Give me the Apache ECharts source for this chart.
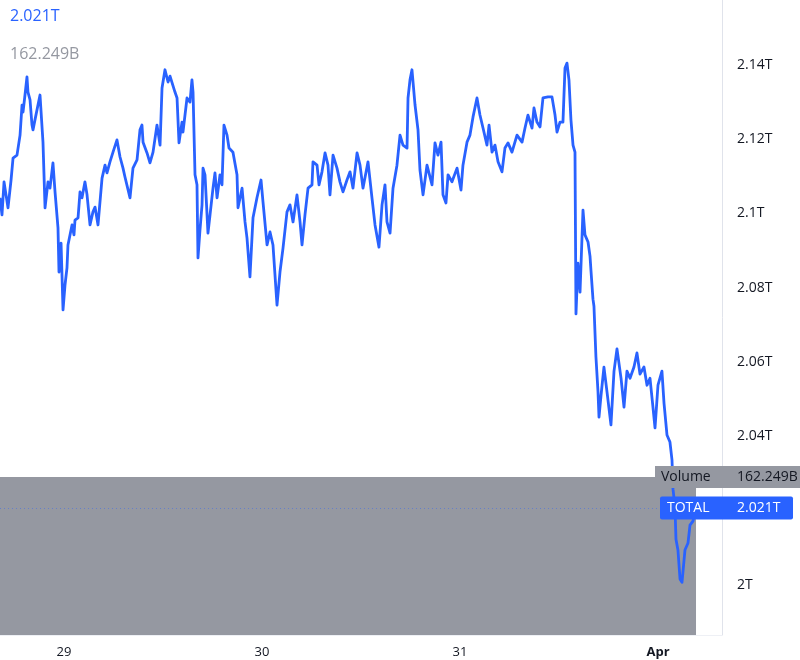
<!DOCTYPE html>
<html>
<head>
<meta charset="utf-8">
<style>html,body{margin:0;padding:0;background:#fff}#c{width:800px;height:660px}</style>
<script src="https://cdn.jsdelivr.net/npm/echarts@6/dist/echarts.min.js"></script>
</head>
<body>
<div id="c"></div>
<script>
// hours since 2022-03-28 00:00 (local)
const hours = [16.24,16.48,16.73,16.97,17.21,17.58,17.82,18.30,18.67,18.91,19.03,19.27,19.51,19.63,19.88,20.12,20.24,20.48,20.72,21.09,
21.45,21.70,22.06,22.30,22.66,22.91,23.27,23.39,23.64,23.88,24.12,24.36,24.48,24.97,25.21,25.33,25.70,25.94,26.18,26.54,
26.79,27.15,27.51,27.76,28.12,28.61,28.97,29.21,29.57,29.94,30.42,30.79,31.15,31.39,32.00,32.36,32.85,33.21,33.45,33.58,
34.06,34.42,34.79,35.27,35.64,35.88,36.24,36.61,36.85,37.09,37.45,37.70,37.94,38.30,38.42,38.91,39.27,39.51,39.64,39.88,
40.12,40.24,40.48,40.73,40.85,41.09,41.45,41.70,42.06,42.30,42.55,42.91,43.15,43.39,43.76,44.00,44.48,44.97,45.09,45.58,
45.94,46.18,46.54,46.91,47.39,47.88,48.12,48.61,48.97,49.33,49.82,50.18,50.55,51.03,51.39,51.76,52.24,52.61,52.85,53.21,
53.58,54.06,54.18,54.67,54.91,55.27,55.64,56.00,56.24,56.61,57.09,57.45,57.82,58.30,58.67,59.03,59.52,59.88,60.24,60.85,
61.33,61.70,62.18,62.55,62.91,63.15,63.52,63.88,64.36,64.73,65.09,65.58,65.70,65.94,66.18,66.55,66.91,67.15,67.52,68.00,
68.61,68.97,69.33,69.70,69.94,70.30,70.55,71.03,71.64,72.12,72.36,72.85,73.21,73.58,74.06,74.42,74.79,75.27,75.52,75.88,
76.24,76.61,77.09,77.45,77.82,78.30,78.91,79.52,79.88,80.24,80.73,80.97,81.33,81.70,82.06,82.67,83.15,83.52,83.76,84.12,
84.48,84.73,84.97,85.21,85.45,85.70,85.94,86.06,86.30,86.55,86.91,87.15,87.52,87.76,87.88,88.12,88.24,88.48,88.73,88.85,
89.09,89.45,89.82,90.30,90.67,91.03,91.52,91.88,92.24,92.61,93.09,93.45,93.82,94.30,94.67,95.03,95.39,95.64,96.00,96.48,
96.73,97.09,97.45,97.70,97.82,98.06,98.18,98.42,98.67,98.91,99.27,99.64,99.88,100.24,100.61];
// TOTAL crypto market cap, billions USD
const totalB = [2104.2,2099.6,2108.5,2105.0,2101.5,2109.0,2114.9,2115.7,2121.1,2129.2,2127.3,2131.9,2136.8,2132.7,2130.6,2123.8,2122.5,2125.2,2125.7,2131.9,
2119.2,2101.5,2108.5,2106.8,2113.6,2105.8,2096.1,2084.2,2092.0,2074.0,2080.7,2085.3,2091.5,2096.9,2094.2,2098.2,2098.8,2105.8,2104.2,2108.5,
2105.0,2096.9,2100.4,2101.7,2096.9,2109.5,2113.0,2110.9,2113.9,2116.5,2119.8,2115.2,2112.2,2109.8,2104.2,2112.2,2114.4,2122.5,2123.8,2119.2,
2116.3,2113.6,2116.5,2123.8,2118.4,2133.8,2138.7,2135.4,2137.0,2136.5,2132.7,2131.1,2119.0,2124.6,2121.9,2131.1,2130.0,2136.0,2132.7,2110.4,
2107.7,2088.0,2095.5,2102.3,2112.2,2110.4,2094.7,2099.6,2106.8,2110.9,2104.2,2110.4,2107.7,2123.8,2121.1,2117.6,2116.5,2110.4,2101.5,2106.8,
2097.7,2093.4,2082.9,2098.8,2104.2,2109.0,2103.1,2091.5,2095.0,2091.5,2075.3,2084.2,2090.7,2100.4,2102.3,2097.7,2105.0,2097.7,2091.5,2099.6,
2106.8,2107.7,2113.9,2113.0,2107.7,2111.2,2116.3,2113.0,2105.0,2115.7,2112.2,2108.5,2105.8,2109.0,2111.2,2106.8,2116.3,2113.0,2106.8,2113.9,
2104.2,2096.9,2090.9,2102.3,2107.7,2097.7,2094.7,2106.8,2113.0,2121.1,2118.4,2117.6,2131.1,2136.0,2138.7,2129.2,2122.5,2111.7,2105.0,2113.0,
2107.7,2119.0,2115.7,2119.2,2105.0,2102.8,2110.4,2108.5,2112.2,2106.3,2113.0,2119.2,2121.1,2126.0,2131.1,2126.5,2123.0,2118.4,2123.8,2116.5,
2118.4,2113.9,2111.2,2117.6,2119.0,2116.5,2121.1,2119.2,2123.0,2126.5,2123.0,2128.4,2124.6,2123.3,2131.1,2131.4,2131.4,2126.5,2121.9,2124.6,
2124.6,2139.2,2140.5,2136.0,2125.2,2118.4,2116.5,2072.9,2086.6,2078.8,2100.9,2094.2,2092.3,2088.5,2084.5,2076.9,2075.0,2061.3,2051.9,2045.1,
2050.8,2058.6,2051.9,2043.0,2057.5,2063.5,2055.6,2047.8,2057.5,2055.6,2058.6,2062.4,2056.7,2058.6,2053.7,2055.6,2047.8,2042.2,2053.7,2057.5,
2048.9,2040.3,2038.4,2033.5,2025.7,2020.9,2012.2,2009.3,2001.5,2000.6,2009.3,2011.2,2016.0,2017.1,2020.6];
const yTickValuesB = [2000, 2020, 2040, 2060, 2080, 2100, 2120, 2140];
const volumeLevelB = 2029;      // top edge of the volume pane overlay
const lastTotalText = '2.021T';
const lastVolumeText = '162.249B';
const seriesName = 'TOTAL';
const volumeName = 'Volume';
const monthNames = ['Jan','Feb','Mar','Apr','May','Jun','Jul','Aug','Sep','Oct','Nov','Dec'];

const BASE = new Date(2022, 2, 28).getTime();
const H = 3600000;
const data = hours.map((h, i) => [BASE + h * H, totalB[i]]);
const tFirst = data[0][0];
const tLast = data[data.length - 1][0];
const vLast = totalB[totalB.length - 1];
const yMin = 1986.4, yMax = 2157.5;
const xMax = BASE + 103.76 * H;

function fmtT(v) {
  return (Math.round(v * 10) / 10000) + 'T';
}

const chart = echarts.init(document.getElementById('c'), null, {renderer: 'canvas'});
const FONT = 'Open Sans, Noto Sans, sans-serif';
chart.setOption({
  animation: false,
  backgroundColor: '#ffffff',
  grid: {left: 0, right: 78, top: 0, bottom: 25, containLabel: false},
  xAxis: {
    type: 'time',
    min: tFirst,
    max: xMax,
    minInterval: 24 * H,
    maxInterval: 24 * H,
    axisLine: {show: true, lineStyle: {color: '#eef0f5', width: 1}},
    axisTick: {show: false},
    splitLine: {show: false},
    axisLabel: {
      color: '#131722', fontSize: 13, fontFamily: FONT, margin: 11,
      formatter: function (val) {
        const d = new Date(val);
        if (d.getHours() !== 0 || d.getMinutes() !== 0) return '';
        if (d.getDate() === 1) return '{m|' + monthNames[d.getMonth()] + '}';
        return String(d.getDate());
      },
      rich: {m: {fontWeight: 'bold', fontSize: 13, color: '#131722', fontFamily: FONT}}
    }
  },
  yAxis: {
    type: 'value',
    position: 'right',
    min: yMin,
    max: yMax,
    splitNumber: 8,
    scale: true,
    axisLine: {show: true, lineStyle: {color: '#e0e3eb', width: 1}},
    axisTick: {show: false},
    splitLine: {show: false},
    axisLabel: {
      color: '#131722', fontSize: 14, fontFamily: FONT, margin: 15,
      showMinLabel: false, showMaxLabel: false,
      formatter: function (v) {
        return yTickValuesB.indexOf(Math.round(v)) >= 0 && Math.abs(v - Math.round(v)) < 1e-6 ? fmtT(v) : '';
      }
    }
  },
  series: [
    {
      name: 'overlay', type: 'line', data: [], z: 1, silent: true,
      markArea: {
        silent: true,
        itemStyle: {color: '#9598a1', opacity: 1},
        data: [[{xAxis: tFirst, yAxis: volumeLevelB}, {xAxis: tLast, yAxis: yMin}]]
      }
    },
    {
      name: seriesName, type: 'line', data: data, z: 3,
      showSymbol: false, symbol: 'none', sampling: null,
      lineStyle: {color: '#2962ff', width: 2.8, join: 'round'},
      markLine: {
        silent: true, symbol: ['none', 'none'],
        label: {show: false},
        lineStyle: {color: '#2962ff', type: [1, 3], width: 1, opacity: 0.45},
        data: [{yAxis: vLast}]
      }
    }
  ]
});

const yTotal = chart.convertToPixel({gridIndex: 0}, [tLast, vLast])[1];
const yVol = chart.convertToPixel({gridIndex: 0}, [tLast, volumeLevelB])[1];

chart.setOption({
  graphic: [
    {type: 'text', left: 10, top: 8, z: 100, style: {text: lastTotalText, fill: '#2962ff', font: '16px ' + FONT}},
    {type: 'text', left: 10, top: 46, z: 100, style: {text: lastVolumeText, fill: '#9598a1', font: '16px ' + FONT}},
    {type: 'rect', z: 100, shape: {x: 655, y: yVol - 11, width: 150, height: 22}, style: {fill: '#9598a1'}},
    {type: 'text', z: 101, x: 661, y: yVol, style: {text: volumeName, fill: '#131722', font: '14px ' + FONT, textVerticalAlign: 'middle'}},
    {type: 'text', z: 101, x: 737, y: yVol, style: {text: lastVolumeText, fill: '#131722', font: '14px ' + FONT, textVerticalAlign: 'middle'}},
    {type: 'rect', z: 100, shape: {x: 660, y: yTotal - 11.5, width: 133, height: 23, r: 2}, style: {fill: '#2962ff'}},
    {type: 'text', z: 101, x: 667, y: yTotal, style: {text: seriesName, fill: '#ffffff', font: '14px ' + FONT, textVerticalAlign: 'middle'}},
    {type: 'text', z: 101, x: 737, y: yTotal, style: {text: lastTotalText, fill: '#ffffff', font: '14px ' + FONT, textVerticalAlign: 'middle'}}
  ]
});
</script>
</body>
</html>
